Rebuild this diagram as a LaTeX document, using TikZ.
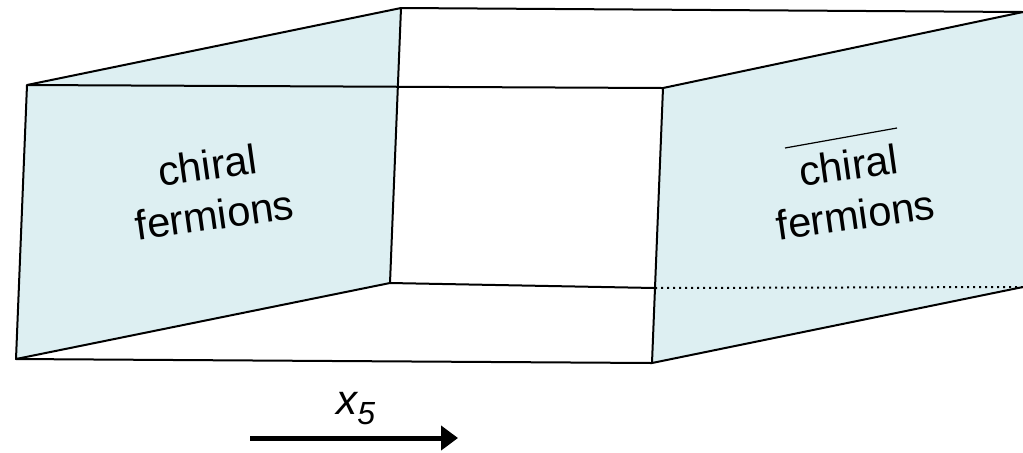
\documentclass[tikz,border=0pt]{standalone}
\usepackage{fontspec}
\setmainfont{Liberation Sans}
\usetikzlibrary{arrows.meta}
\definecolor{panel}{RGB}{221,239,242}
\tikzset{
  edge/.style={draw=black,line width=1pt,line join=round},
  wall/.style={fill=panel,draw=black,line width=1pt,line join=round},
  lbl/.style={font=\fontsize{20.8}{25}\selectfont,align=center,rotate=8,inner sep=0pt},
  axis/.style={line width=2.5pt,-{Triangle[length=8.5pt,width=12pt]}}
}
\begin{document}
\begin{tikzpicture}[x=0.5pt,y=-0.5pt]
\useasboundingbox (0,0) rectangle (1023,452);
% corners
\coordinate (LTF) at (27,85);
\coordinate (LTB) at (401,8);
\coordinate (LBB) at (390,283);
\coordinate (LBF) at (16,359);
\coordinate (RTF) at (663,88);
\coordinate (RTB) at (1023,12);
\coordinate (RBB) at (1023,287);
\coordinate (RBF) at (652,363);
\coordinate (RBM) at (655,288);
% panels
\path[wall] (LTF) -- (LTB) -- (LBB) -- (LBF) -- cycle;
\path[fill=panel] (RTF) -- (RTB) -- (RBB) -- (RBF) -- cycle;
\draw[edge] (RBF) -- (RTF) -- (RTB);
\draw[edge] (RBF) -- (RBB);
% box edges
\draw[edge] (LTB) -- (RTB);
\draw[edge] (LTF) -- (RTF);
\draw[edge] (LBB) -- (RBM);
\draw[line width=1pt,dotted] (RBM) -- (RBB);
\draw[edge] (LBF) -- (RBF);
% labels
\node[lbl] (cl) at (211,190) {chiral\\fermions};
\node[lbl] (cr) at (852,190) {chiral\\fermions};
\draw[line width=0.6pt] (785,148) -- (897,128);
% axis
\coordinate (a0) at (250,438);
\coordinate (a1) at (458,438);
\draw[axis] (a0) -- (a1);
\node[font=\fontsize{21}{22}\selectfont\itshape,inner sep=0pt,anchor=base west] (x5) at (336,414) {x\raisebox{-5pt}{\fontsize{16}{16}\selectfont 5}};
\end{tikzpicture}
\end{document}
